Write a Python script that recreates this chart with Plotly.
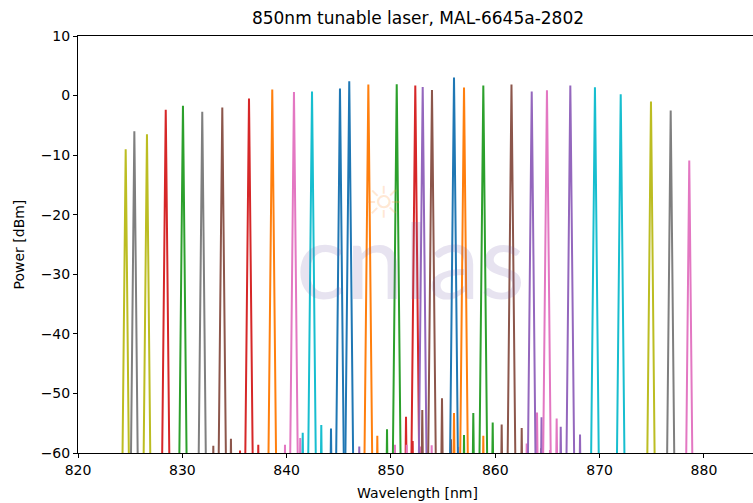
import plotly.graph_objects as go

# ---- data ----
TAB10 = {
    "blue": "#1f77b4", "orange": "#ff7f0e", "green": "#2ca02c", "red": "#d62728",
    "purple": "#9467bd", "brown": "#8c564b", "pink": "#e377c2", "gray": "#7f7f7f",
    "olive": "#bcbd22", "cyan": "#17becf",
}

# main laser lines: centre wavelength [nm], peak power [dBm], colour
peak_wl = [824.57, 825.40, 826.61, 828.41, 830.06, 831.91, 833.83, 836.39, 838.62, 840.70,
           842.43, 845.11, 846.00, 847.83, 850.55, 852.33, 853.04, 853.93, 856.04, 857.00,
           858.85, 861.55, 863.49, 864.95, 867.19, 869.55, 872.02, 874.92, 876.81, 878.59]
peak_dbm = [-9.0, -6.0, -6.5, -2.4, -1.7, -2.7, -2.0, -0.5, 1.0, 0.6,
            0.7, 1.2, 2.4, 1.85, 1.9, 1.7, 1.45, 0.95, 3.05, 1.35,
            1.7, 1.85, 0.7, 0.9, 1.7, 1.4, 0.2, -1.0, -2.5, -10.9]
peak_color = ["olive", "gray", "olive", "red", "green", "gray", "brown", "red", "orange", "pink",
              "cyan", "blue", "blue", "orange", "green", "red", "purple", "brown", "blue", "orange",
              "green", "brown", "purple", "pink", "purple", "cyan", "cyan", "olive", "gray", "pink"]

# small side modes near the noise floor
spur_wl = [832.97, 834.66, 835.53, 837.28, 839.84, 841.30, 841.54, 843.32, 844.25, 846.96,
           848.69, 849.62, 850.38, 851.44, 851.50, 852.08, 852.78, 853.00, 853.90, 854.89,
           855.75, 856.04, 856.45, 857.00, 857.89, 858.85, 859.75, 860.61, 862.53, 863.01,
           864.00, 864.38, 864.43, 865.24, 865.88, 866.27, 868.12]
spur_dbm = [-58.8, -57.6, -59.6, -58.6, -58.6, -57.5, -56.6, -55.3, -55.9, -58.9,
            -57.1, -56.0, -58.6, -53.9, -58.6, -58.0, -58.9, -52.8, -58.7, -50.8,
            -57.7, -53.3, -59.0, -57.0, -53.3, -57.1, -54.9, -55.2, -55.8, -58.4,
            -53.2, -59.2, -54.0, -59.5, -54.2, -55.6, -56.9]
spur_color = ["brown", "brown", "red", "red", "pink", "pink", "cyan", "cyan", "blue", "purple",
              "orange", "green", "pink", "red", "pink", "red", "pink", "brown", "pink", "brown",
              "brown", "orange", "pink", "green", "green", "orange", "green", "brown", "brown", "pink",
              "pink", "brown", "purple", "pink", "pink", "purple", "purple"]

# measured line shape: offset from centre [nm] and drop below the peak [dB]
profile_offset_nm = [-0.46, -0.36, -0.30, -0.22, -0.15, -0.10, -0.05, -0.02, 0.0,
                     0.02, 0.05, 0.10, 0.15, 0.22, 0.30, 0.36, 0.46]
profile_drop_db = [78, 63, 52, 38, 25, 16, 8, 3, 0, 3, 8, 16, 25, 38, 52, 63, 78]

x_ticks = [820, 830, 840, 850, 860, 870, 880]
y_ticks = [-60, -50, -40, -30, -20, -10, 0, 10]

FONT = "DejaVu Sans"

fig = go.Figure()


def add_line(c, p, col):
    fig.add_trace(go.Scatter(
        x=[c + o for o in profile_offset_nm],
        y=[p - d for d in profile_drop_db],
        mode="lines", line=dict(color=TAB10[col], width=2),
        showlegend=False, hoverinfo="skip"))


for c, p, col in zip(spur_wl, spur_dbm, spur_color):
    add_line(c, p, col)
for c, p, col in zip(peak_wl, peak_dbm, peak_color):
    add_line(c, p, col)

fig.update_layout(
    width=753, height=503,
    margin=dict(l=78, r=0, t=36, b=50),
    paper_bgcolor="white", plot_bgcolor="white",
    font=dict(family=FONT, size=14, color="black"),
    title=dict(text="850nm tunable laser, MAL-6645a-2802", xref="container", x=418 / 753,
               xanchor="center", yref="container", y=1 - 18 / 503, yanchor="middle",
               font=dict(family=FONT, size=17, color="black")),
    xaxis=dict(range=[820, 884.7], tickvals=x_ticks, ticks="outside", ticklen=4,
               tickwidth=1, tickcolor="black", showline=True, linecolor="black",
               linewidth=1, mirror=True, showgrid=False, zeroline=False,
               tickfont=dict(size=14)),
    yaxis=dict(range=[-60, 10], tickvals=y_ticks, ticks="outside", ticklen=4,
               tickwidth=1, tickcolor="black", showline=True, linecolor="black",
               linewidth=1, mirror=False, showgrid=False, zeroline=False,
               tickfont=dict(size=14)),
    annotations=[
        dict(text="Wavelength [nm]", xref="paper", yref="paper", x=(418 - 78) / 675, y=0,
             xanchor="center", yanchor="top", yshift=-30, showarrow=False,
             font=dict(size=14)),
        dict(text="Power [dBm]", xref="paper", yref="paper", x=0, y=0.5, xshift=-60,
             textangle=-90, xanchor="center", yanchor="middle", showarrow=False,
             font=dict(size=14)),
        # faint watermark
        dict(text="cnlas", xref="paper", yref="paper", x=(410 - 78) / 675, y=(453 - 258) / 417,
             xanchor="center", yanchor="middle", showarrow=False,
             font=dict(family="Lato", size=104, color="rgba(120,100,170,0.18)")),
        dict(text="\u263c", xref="paper", yref="paper", x=(383 - 78) / 675, y=(453 - 203) / 417,
             xanchor="center", yanchor="middle", showarrow=False,
             font=dict(family="DejaVu Sans", size=44, color="rgba(255,150,60,0.22)")),
    ],
)

fig.write_html("out.html", config={"displayModeBar": False},
               post_script="document.body.style.margin='0';document.body.style.overflow='hidden';")
